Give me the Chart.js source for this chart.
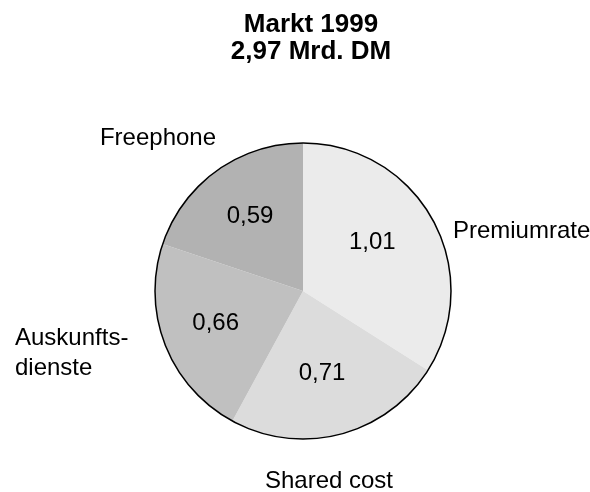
<!DOCTYPE html>
<html>
<head>
<meta charset="utf-8">
<script src="https://cdn.jsdelivr.net/npm/chart.js@4.4.1/dist/chart.umd.min.js"></script>
<style>
  html, body { margin: 0; padding: 0; background: #ffffff; }
  canvas { display: block; }
</style>
</head>
<body>
<canvas id="c" width="590" height="492"></canvas>
<script>
// ---- data ----
const categories = ["Premiumrate", "Shared cost", "Auskunftsdienste", "Freephone"];
const values = [1.01, 0.71, 0.66, 0.59];
const nameLines = [["Premiumrate"], ["Shared cost"], ["Auskunfts-", "dienste"], ["Freephone"]];
const titleLines = ["Markt 1999", "2,97 Mrd. DM"];

// ---- styles ----
const sliceColors = ["#ebebeb", "#dcdcdc", "#c0c0c0", "#b2b2b2"];
const FONT = '"Liberation Sans", Arial, Helvetica, sans-serif';

// label placement relative to the pie geometry (angle tweak in degrees, radius fraction)
const valueLabelPlacement = [[-6, 0.57], [1.5, 0.57], [1, 0.63], [0.5, 0.62]];
// name label anchors as multiples of radius from the pie centre (dx, dy of first baseline), text align
const nameLabelPlacement = [
  [1.013, -0.358, "left"],
  [-0.257, 1.33, "left"],
  [-1.946, 0.365, "left"],
  [-1.372, -0.986, "left"]
];

const labelPlugin = {
  id: "pieLabels",
  afterDatasetsDraw(chart) {
    const ctx = chart.ctx;
    const meta = chart.getDatasetMeta(0);
    const arcs = meta.data;
    const cx = arcs[0].x, cy = arcs[0].y, r = arcs[0].outerRadius;

    // outer outline
    ctx.save();
    ctx.beginPath();
    ctx.arc(cx, cy, r, 0, Math.PI * 2);
    ctx.lineWidth = 1.5;
    ctx.strokeStyle = "#000000";
    ctx.stroke();

    // value labels
    ctx.fillStyle = "#000000";
    ctx.font = "24px " + FONT;
    ctx.textAlign = "center";
    ctx.textBaseline = "middle";
    arcs.forEach((arc, i) => {
      const [adj, frac] = valueLabelPlacement[i];
      const mid = (arc.startAngle + arc.endAngle) / 2 + adj * Math.PI / 180;
      const x = cx + Math.cos(mid) * r * frac;
      const y = cy + Math.sin(mid) * r * frac;
      ctx.fillText(values[i].toFixed(2).replace(".", ","), x, y);
    });

    // category name labels
    ctx.textBaseline = "alphabetic";
    nameLines.forEach((lines, i) => {
      const [fx, fy, align] = nameLabelPlacement[i];
      ctx.textAlign = align;
      lines.forEach((t, j) => {
        ctx.fillText(t, cx + fx * r, cy + fy * r + j * 30);
      });
    });

    // title
    ctx.font = "bold 26px " + FONT;
    ctx.textAlign = "center";
    titleLines.forEach((t, j) => {
      ctx.fillText(t, 311, 32 + j * 26.5);
    });
    ctx.restore();
  }
};

new Chart(document.getElementById("c"), {
  type: "pie",
  data: {
    labels: categories,
    datasets: [{
      data: values,
      backgroundColor: sliceColors,
      borderWidth: 0
    }]
  },
  options: {
    responsive: false,
    animation: false,
    devicePixelRatio: 1,
    layout: { padding: { left: 155, right: 139, top: 143, bottom: 53 } },
    plugins: {
      legend: { display: false },
      tooltip: { enabled: false },
      title: { display: false }
    }
  },
  plugins: [labelPlugin]
});
</script>
</body>
</html>
